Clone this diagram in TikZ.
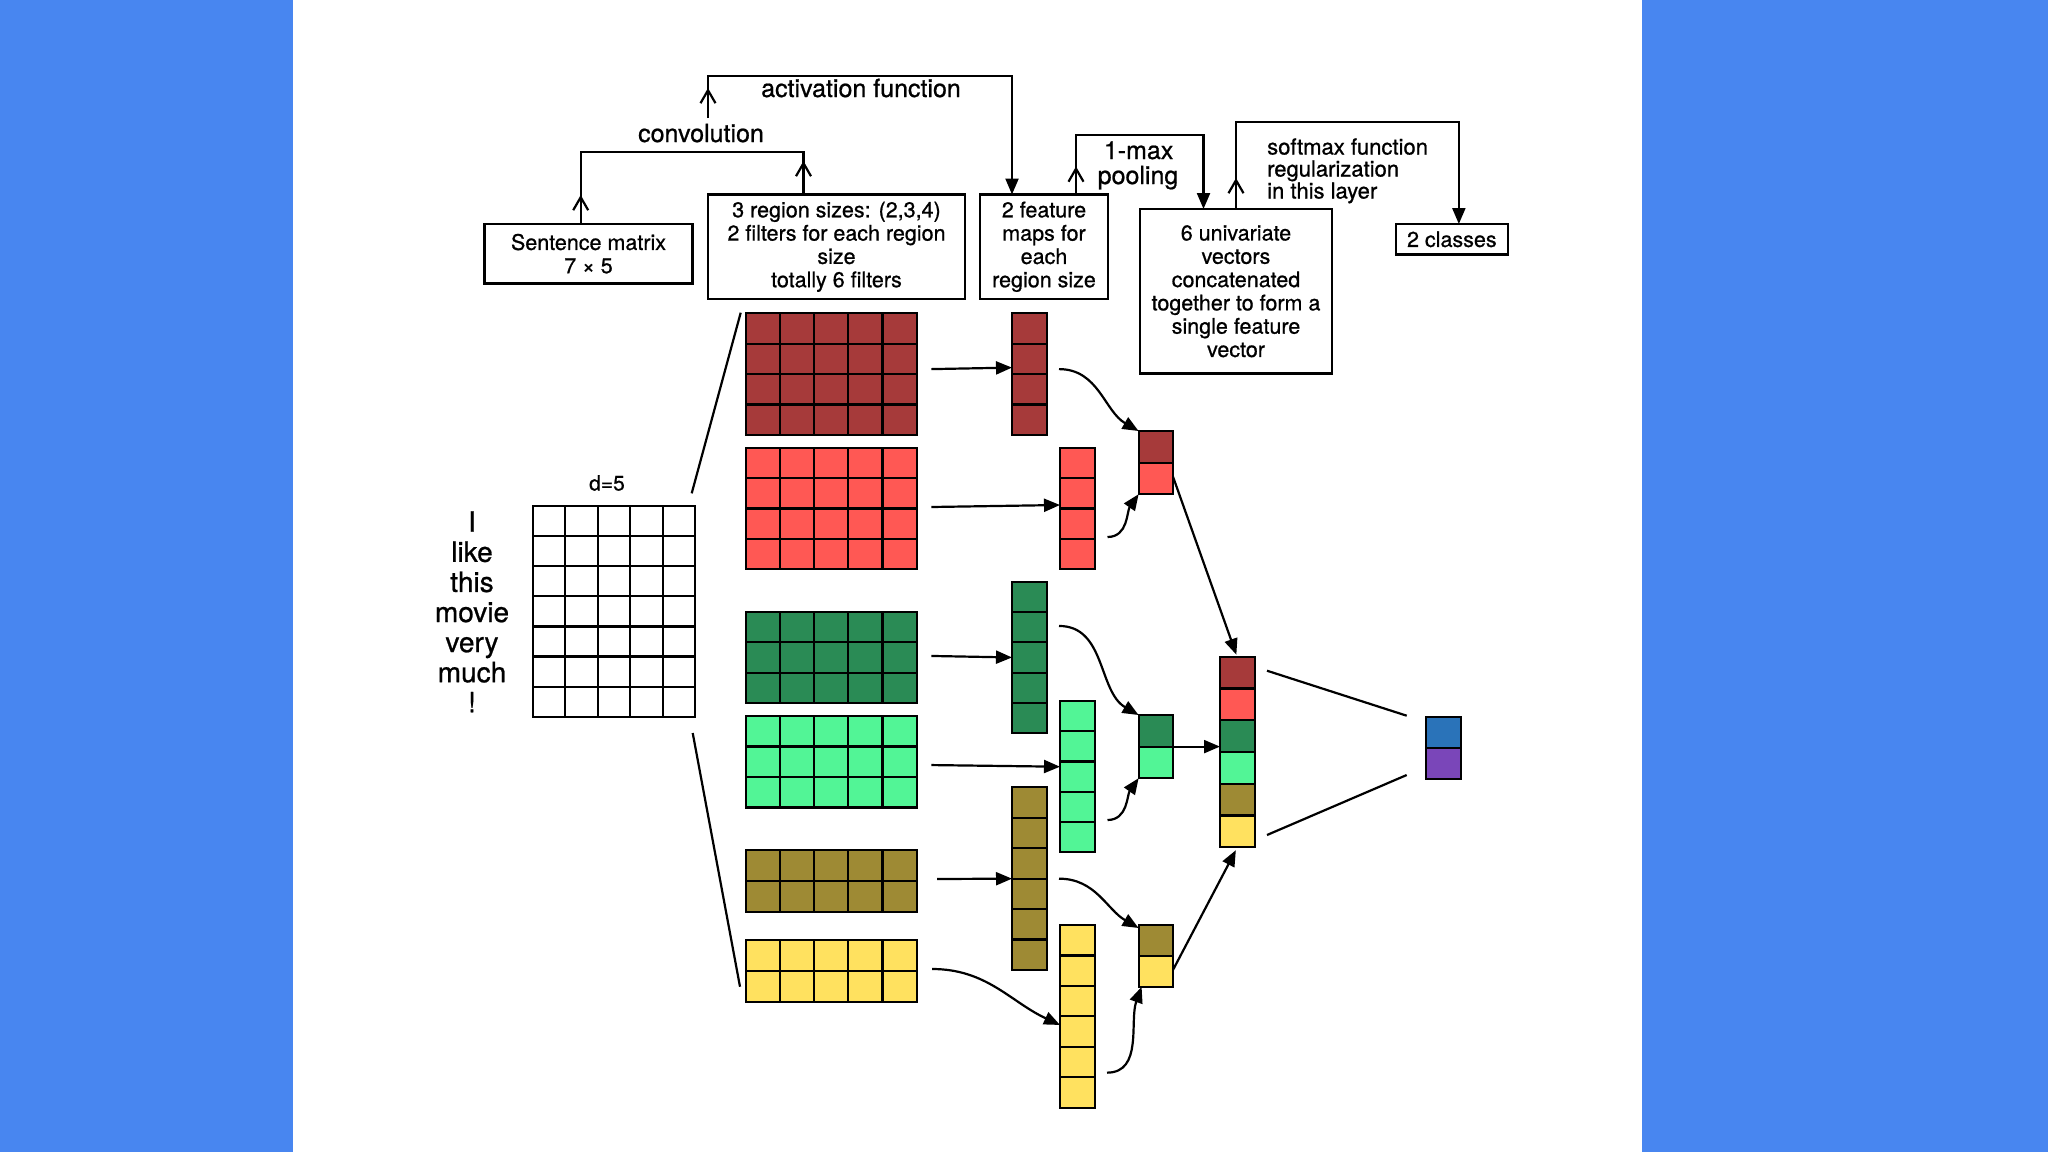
\documentclass[tikz,border=0pt]{standalone}
\usepackage{fontspec}
\setmainfont{TeX Gyre Heros}[FakeBold=0.8]
\usetikzlibrary{arrows.meta,decorations.markings,calc}
\definecolor{bgblue}{RGB}{72,134,240}
\definecolor{cdred}{RGB}{166,58,58}
\definecolor{clred}{RGB}{255,88,84}
\definecolor{cdgreen}{RGB}{42,139,85}
\definecolor{clgreen}{RGB}{82,245,150}
\definecolor{colive}{RGB}{158,138,52}
\definecolor{cyellow}{RGB}{255,225,95}
\definecolor{cblue}{RGB}{42,115,185}
\definecolor{cpurple}{RGB}{122,70,185}
\tikzset{
 conn/.style={line width=2.2pt, draw=black},
 arr/.style={conn, -{Triangle[length=16pt,width=13pt]}},
 upbarb/.style={postaction={decorate, decoration={markings, mark=at position #1 with {\arrow{Straight Barb[length=13pt,width=15pt]}}}}},
 downbarb/.style={postaction={decorate, decoration={markings, mark=at position #1 with {\arrowreversed{Straight Barb[length=13pt,width=15pt]}}}}},
 cellbox/.style={draw=black, line width=2.2pt, inner sep=0pt, outer sep=0pt},
 cellline/.style={draw=black, line width=2.2pt},
 tbox/.style={draw=black, line width=2.2pt, inner sep=0pt, outer sep=0pt, align=center, font=\fontsize{21.5}{23.3}\selectfont},
 lbl/.style={font=\fontsize{25}{27}\selectfont, inner sep=0pt},
 stxt/.style={font=\fontsize{22}{23}\selectfont, inner sep=0pt},
 word/.style={font=\fontsize{28}{30}\selectfont, inner sep=0pt},
}
% name, x0, y0, cols, rows, cw, ch, colour
\newcommand\gridblock[8]{%
  \pgfmathsetmacro\gbw{#4*#6}\pgfmathsetmacro\gbh{#5*#7}%
  \node[cellbox, fill=#8, minimum width=\gbw pt, minimum height=\gbh pt, anchor=north west] (#1) at (#2,#3) {};
  \ifnum#4>1 \foreach \i in {2,...,#4} {\draw[cellline] ({#2+(\i-1)*#6},#3) -- ++(0,\gbh);}\fi
  \ifnum#5>1 \foreach \j in {2,...,#5} {\draw[cellline] (#2,{#3+(\j-1)*#7}) -- ++(\gbw,0);}\fi
}
% name, x0, y0, cw, ch, n, colours
\newcommand\stackblock[7]{%
  \pgfmathsetmacro\sbh{#6*#5}%
  \foreach \c [count=\k from 0] in {#7} {\fill[\c] (#2,{#3+\k*#5}) rectangle ++(#4,#5);}
  \foreach \j in {2,...,#6} {\draw[cellline] (#2,{#3+(\j-1)*#5}) -- ++(#4,0);}
  \node[cellbox, minimum width=#4pt, minimum height=\sbh pt, anchor=north west] (#1) at (#2,#3) {};
}
\begin{document}
\begin{tikzpicture}[x=1pt,y=-1pt]
\useasboundingbox (0,0) rectangle (2048,1152);
\fill[bgblue] (0,0) rectangle (2048,1152);
\fill[white] (292.7,0) rectangle (1642.3,1152);

% top boxes
\node[tbox, minimum width=208pt, minimum height=59.4pt] (b1) at (588.5,253.7) {Sentence matrix\\7 × 5};
\node[tbox, minimum width=257pt, minimum height=104.5pt] (b2) at (836.5,246.75) {3 region sizes: (2,3,4)\\2 filters for each region\\size\\totally 6 filters};
\node[tbox, minimum width=128pt, minimum height=104.5pt] (b3) at (1044,246.75) {2 feature\\maps for\\each\\region size};
\node[tbox, minimum width=192pt, minimum height=164.5pt] (b4) at (1236,291.25) {6 univariate\\vectors\\concatenated\\together to form a\\single feature\\vector};
\node[tbox, minimum width=112.3pt, minimum height=30.5pt] (b5) at (1451.85,239.25) {2 classes};

% labels
\node[lbl, anchor=base] (convlbl) at (701,142) {convolution};
\node[lbl, anchor=base] (actlbl) at (861,97) {activation function};
\node[lbl, anchor=base] (maxlbl) at (1138.6,159) {1-max};
\node[lbl, anchor=base] (poollbl) at (1138,184) {pooling};
\node[stxt, anchor=base west] (sm1) at (1267,154.5) {softmax function};
\node[stxt, anchor=base west] (sm2) at (1267,176.5) {regularization};
\node[stxt, anchor=base west] (sm3) at (1267,198.5) {in this layer};

% brackets
\draw[conn, upbarb=29pt, downbarb=-33.5pt] ([xshift=-7.8pt]b1.north) -- ++(0,-72.3) -| ([xshift=-33pt]b2.north);
\coordinate (actstart) at (708,118);
\draw[arr, upbarb=30pt] (actstart) -- ++(0,-42.3) -| ([xshift=-32pt]b3.north);
\draw[arr, upbarb=28pt] ([xshift=32pt]b3.north) -- ++(0,-59.5) -| ([xshift=-32.5pt]b4.north);
\draw[arr, upbarb=31pt] (b4.north) -- ++(0,-87.3) -| ([xshift=7pt]b5.north);

% sentence matrix
\gridblock{smat}{532.7}{506}{5}{7}{32.5}{30.1}{white}
\node[font=\fontsize{21}{24}\selectfont, inner sep=0pt, anchor=base] (dlbl) at (607,490.5) {d=5};
\foreach \w [count=\k from 0] in {I,like,this,movie,very,much,!}
  \node[word, anchor=base] (w\k) at (472,{531.7+\k*30.1}) {\w};

% filters
\gridblock{f1}{745.7}{313.3}{5}{4}{34.2}{30.4}{cdred}
\gridblock{f2}{745.7}{447.7}{5}{4}{34.2}{30.4}{clred}
\gridblock{f3}{745.7}{611.7}{5}{3}{34.2}{30.5}{cdgreen}
\gridblock{f4}{745.7}{716}{5}{3}{34.2}{30.5}{clgreen}
\gridblock{f5}{745.7}{850}{5}{2}{34.2}{31}{colive}
\gridblock{f6}{745.7}{940}{5}{2}{34.2}{31}{cyellow}

% feature maps
\gridblock{m1}{1012}{313.3}{1}{4}{34.8}{30.4}{cdred}
\gridblock{m2}{1060}{447.7}{1}{4}{34.8}{30.4}{clred}
\gridblock{m3}{1012}{581.7}{1}{5}{34.8}{30.3}{cdgreen}
\gridblock{m4}{1060}{701}{1}{5}{34.8}{30.2}{clgreen}
\gridblock{m5}{1012}{787.3}{1}{6}{34.8}{30.45}{colive}
\gridblock{m6}{1060}{925}{1}{6}{34.8}{30.45}{cyellow}

% pooled
\stackblock{p1}{1138.6}{431}{34.4}{31.6}{2}{cdred,clred}
\stackblock{p2}{1138.6}{715}{34.4}{31.6}{2}{cdgreen,clgreen}
\stackblock{p3}{1138.6}{925}{34.4}{30.9}{2}{colive,cyellow}
\stackblock{cv}{1220}{656.7}{34.7}{31.75}{6}{cdred,clred,cdgreen,clgreen,colive,cyellow}
\stackblock{outv}{1426}{716.7}{34.7}{31.3}{2}{cblue,cpurple}

% sentence matrix to filters
\draw[conn] ([xshift=-3.5pt,yshift=12.7pt]smat.north east) -- ([xshift=-5pt,yshift=0.6pt]f1.north west);
\draw[conn] ([xshift=-2.5pt,yshift=-16.3pt]smat.south east) -- ([xshift=-5.7pt,yshift=15.3pt]f6.south west);

% filters to maps
\draw[arr] ([xshift=14.6pt,yshift=5pt]f1.east) -- ([yshift=6.5pt]m1.west);
\draw[arr] ([xshift=14.6pt,yshift=1.5pt]f2.east) -- ([yshift=3.5pt]m2.west);
\draw[arr] ([xshift=14.6pt,yshift=1.5pt]f3.east) -- (m3.west);
\draw[arr] ([xshift=14.6pt,yshift=-3.3pt]f4.east) -- ([yshift=9.8pt]m4.west);
\draw[arr] ([xshift=20.4pt,yshift=2pt]f5.east) -- (m5.west);
\draw[arr] ([xshift=15.4pt,yshift=2pt]f6.east) to[out=0,in=155] ([yshift=-8.6pt]m6.west);

% maps to pooled
\draw[arr] ([xshift=12.2pt,yshift=5pt]m1.east) to[out=0,in=150] (p1.north west);
\draw[arr] ([xshift=12.7pt,yshift=-28.5pt]m2.east) to[out=0,in=-125] (p1.south west);
\draw[arr] ([xshift=12.2pt,yshift=31.5pt]m3.east) to[out=0,in=150] (p2.north west);
\draw[arr] ([xshift=12.7pt,yshift=-43.5pt]m4.east) to[out=0,in=-125] (p2.south west);
\draw[arr] ([xshift=12.2pt]m5.east) to[out=0,in=150] ([yshift=-3pt]p3.north west);
\draw[arr] ([xshift=12.2pt,yshift=-56.3pt]m6.east) to[out=0,in=-110] ([xshift=3pt]p3.south west);

% pooled to concatenated
\draw[arr] ([yshift=-14.1pt]p1.east) -- ([xshift=-1pt,yshift=2pt]cv.north);
\draw[arr] (p2.east) -- (cv.west |- p2.east);
\draw[arr] ([yshift=-14pt]p3.east) -- ([xshift=-1.5pt,yshift=-3pt]cv.south);

% concatenated to output
\draw[conn] ([xshift=12.3pt,yshift=-14pt]cv.north east) -- ([xshift=-19.3pt,yshift=1pt]outv.north west);
\draw[conn] ([xshift=12.3pt,yshift=12.2pt]cv.south east) -- ([xshift=-19.3pt,yshift=4.3pt]outv.south west);
\end{tikzpicture}
\end{document}
